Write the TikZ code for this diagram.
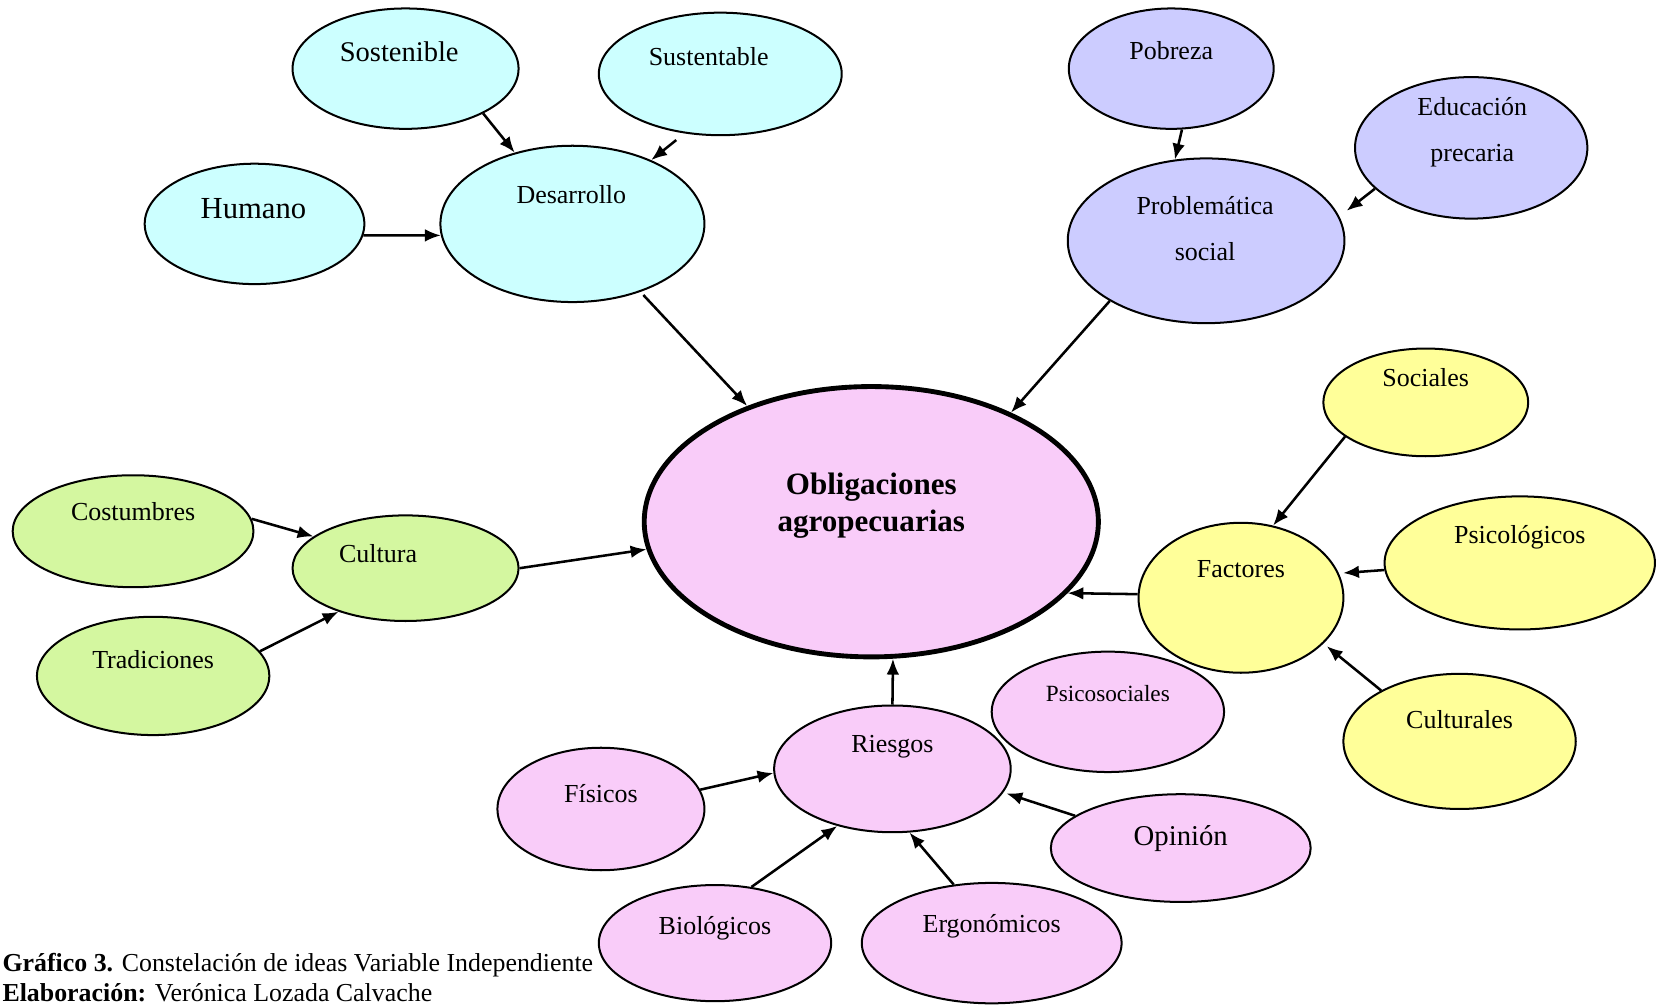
\documentclass[tikz,border=0pt]{standalone}
\usepackage{fontspec}
\setmainfont{Liberation Serif}
\usetikzlibrary{arrows.meta,shapes.geometric}
\definecolor{cyanF}{HTML}{CCFFFF}
\definecolor{lilaF}{HTML}{CCCCFF}
\definecolor{pinkF}{HTML}{F9CCF9}
\definecolor{greenF}{HTML}{D4F7A0}
\definecolor{yellowF}{HTML}{FFFF99}
\tikzset{
  el/.style={ellipse, draw=black, line width=0.95pt, inner sep=0pt},
  txt/.style={inner sep=0pt, align=center, font=\fontsize{12.3}{22}\selectfont},
  con/.style={line width=1.2pt, -{Latex[length=7.5pt,width=6pt]}},
}
\begin{document}
\begin{tikzpicture}[x=0.5pt,y=-0.5pt]
\useasboundingbox (0,0) rectangle (1568,952);
% cyan group
\node[el, fill=cyanF, minimum width=107pt, minimum height=57pt] (sost) at (384,65) {};
\node[txt, font=\fontsize{13.5}{16}\selectfont] (sostT) at (378,49) {Sostenible};
\node[el, fill=cyanF, minimum width=115pt, minimum height=58pt] (sust) at (682,70) {};
\node[txt] (sustT) at (671,54) {Sustentable};
\node[el, fill=cyanF, minimum width=104pt, minimum height=57pt] (hum) at (241,212) {};
\node[txt, font=\fontsize{14.5}{17}\selectfont] (humT) at (240,198) {Humano};
\node[el, fill=cyanF, minimum width=125pt, minimum height=74pt] (des) at (542,212) {};
\node[txt] (desT) at (541,184) {Desarrollo};
% purple group
\node[el, fill=lilaF, minimum width=97pt, minimum height=57pt] (pob) at (1109,65) {};
\node[txt] (pobT) at (1109,48) {Pobreza};
\node[el, fill=lilaF, minimum width=110pt, minimum height=67pt] (edu) at (1393,140) {};
\node[txt] (eduT) at (1394,125) {Educación\\precaria};
\node[el, fill=lilaF, minimum width=131pt, minimum height=78pt] (prob) at (1142,228) {};
\node[txt] (probT) at (1141,216.5) {Problemática\\social};
% central
\node[ellipse, draw=black, line width=2.3pt, inner sep=0pt, fill=pinkF, minimum width=215pt, minimum height=128pt] (obl) at (825,494) {};
\node[txt, font=\fontsize{14.7}{17.5}\selectfont\bfseries] (oblT) at (825,478.5) {Obligaciones\\agropecuarias};
% green group
\node[el, fill=greenF, minimum width=114pt, minimum height=53pt] (cos) at (126,503) {};
\node[txt] (cosT) at (126,484) {Costumbres};
\node[el, fill=greenF, minimum width=107pt, minimum height=50pt] (cul) at (384,538) {};
\node[txt] (culT) at (358,524) {Cultura};
\node[el, fill=greenF, minimum width=110pt, minimum height=56pt] (tra) at (145,640) {};
\node[txt] (traT) at (145,625) {Tradiciones};
% yellow group
\node[el, fill=yellowF, minimum width=97pt, minimum height=51pt] (soc) at (1350,381) {};
\node[txt] (socT) at (1350,358) {Sociales};
\node[el, fill=yellowF, minimum width=128pt, minimum height=63pt] (psi) at (1439,533) {};
\node[txt] (psiT) at (1439,509) {Psicológicos};
\node[el, fill=yellowF, minimum width=97pt, minimum height=71pt] (fac) at (1175,566) {};
\node[txt] (facT) at (1175,539) {Factores};
\node[el, fill=yellowF, minimum width=110pt, minimum height=64pt] (culs) at (1382,702) {};
\node[txt] (culsT) at (1382,681) {Culturales};
% pink group
\node[el, fill=pinkF, minimum width=110pt, minimum height=57pt] (psc) at (1049,674) {};
\node[txt, font=\fontsize{11}{13}\selectfont] (pscT) at (1049,657) {Psicosociales};
\node[el, fill=pinkF, minimum width=112pt, minimum height=60pt] (rie) at (845,728) {};
\node[txt] (rieT) at (845,707) {Riesgos};
\node[el, fill=pinkF, minimum width=98pt, minimum height=58pt] (fis) at (569,766) {};
\node[txt] (fisT) at (569,751) {Físicos};
\node[el, fill=pinkF, minimum width=123pt, minimum height=51pt] (opi) at (1118,803) {};
\node[txt, font=\fontsize{13.6}{16}\selectfont] (opiT) at (1118,794) {Opinión};
\node[el, fill=pinkF, minimum width=110pt, minimum height=55pt] (bio) at (677,893) {};
\node[txt] (bioT) at (677,879) {Biológicos};
\node[el, fill=pinkF, minimum width=123pt, minimum height=57pt] (erg) at (939,893) {};
\node[txt] (ergT) at (939,877) {Ergonómicos};
% connectors
\draw[con] (sost.-30.6) -- (des.129);
\draw[con, shorten <=5pt] (sust.239.5) -- (des.39);
\draw[con] (hum.-6) -- (des.185);
\draw[con, shorten <=2pt] (des.-45.8) -- (obl.137.8);
\draw[con] (pob.-80.4) -- (prob.111.4);
\draw[con] (edu.203.3) -- ([xshift=5pt]prob.13.5);
\draw[con] (prob.212) -- (obl.38.4);
\draw[con] (cos.6.9) -- (cul.161.2);
\draw[con] (tra.13.6) -- (cul.213.5);
\draw[con] (cul.0) -- (obl.187);
\draw[con] (soc.203.7) -- (fac.66.3);
\draw[con, shorten >=2pt] (psi.183.1) -- (fac.14.6);
\draw[con, shorten >=2pt] (culs.147.6) -- (fac.-29.3);
\draw[con] (fac.178.2) -- (obl.-20.2);
\draw[con] (rie.90) -- (obl.-81.1);
\draw[con] (fis.11) -- (rie.182.6);
\draw[con, shorten >=1.5pt] (opi.163) -- (rie.-12.5);
\draw[con] (bio.57.7) -- (rie.226.4);
\draw[con] (erg.123.5) -- (rie.-75.1);
% caption
\node[anchor=base west, inner sep=0pt, font=\fontsize{12.25}{14}\selectfont] (cap1) at (2,920) {\textbf{Gráfico 3.} Constelación de ideas Variable Independiente};
\node[anchor=base west, inner sep=0pt, font=\fontsize{12.25}{14}\selectfont] (cap2) at (2,948) {\textbf{Elaboración:} Verónica Lozada Calvache};
\end{tikzpicture}
\end{document}
